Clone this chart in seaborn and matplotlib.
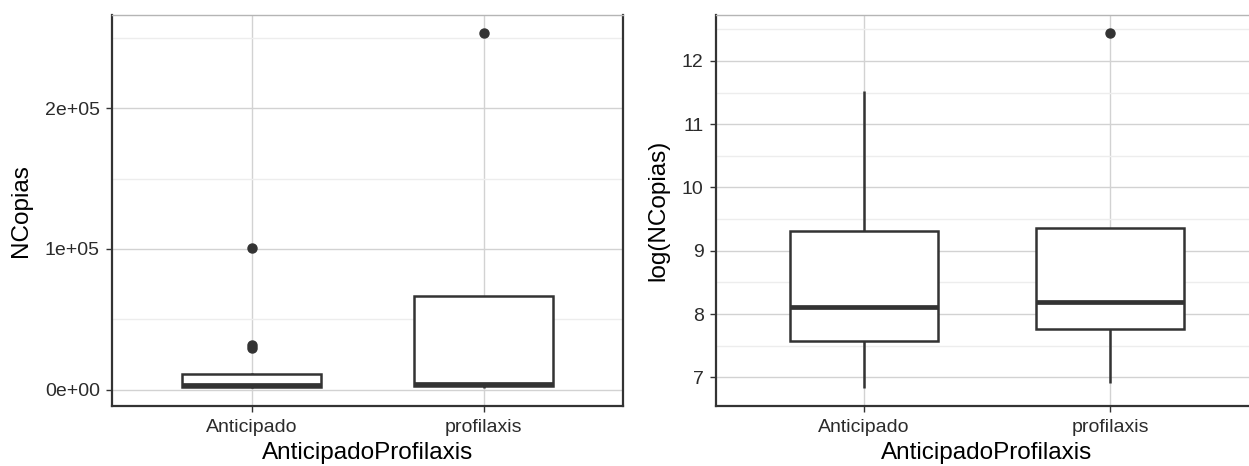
import numpy as np
import pandas as pd
import seaborn as sns
import matplotlib.pyplot as plt
from matplotlib.ticker import MultipleLocator, FuncFormatter

# NCopias per group
GROUPS = ["Anticipado", "profilaxis"]
anticipado = [925, 1250, 1500, 1800, 1960, 2300, 2700, 3000, 3330,
              4500, 6200, 8400, 11150, 11900, 29500, 32000, 100800]
profilaxis = [1012, 3140, 4133, 253600]

df = pd.DataFrame({
    "AnticipadoProfilaxis": ["Anticipado"] * len(anticipado) + ["profilaxis"] * len(profilaxis),
    "NCopias": anticipado + profilaxis,
})
df["logNCopias"] = np.log(df["NCopias"])

sns.set_theme(style="white")
plt.rcParams["font.family"] = ["Liberation Sans", "DejaVu Sans"]

DARK = "#333333"
fig = plt.figure(figsize=(12.49, 4.66), dpi=100)
ax1 = fig.add_axes([112.4 / 1249, 60 / 466, 510.3 / 1249, 391 / 466])
ax2 = fig.add_axes([716 / 1249, 60 / 466, 542 / 1249, 391 / 466])


def draw(ax, col, ylabel, major, minor, label_x):
    sns.boxplot(data=df, x="AnticipadoProfilaxis", y=col, order=GROUPS, ax=ax,
                width=0.6, color="white", linecolor=DARK, linewidth=1.8,
                saturation=1, showcaps=False, whis=1.5,
                boxprops=dict(facecolor="white", edgecolor=DARK, linewidth=1.8),
                medianprops=dict(color=DARK, linewidth=3.4),
                whiskerprops=dict(color=DARK, linewidth=1.8),
                flierprops=dict(marker="o", markerfacecolor=DARK, markeredgecolor=DARK,
                                markersize=6.5))
    ax.set_xlim(-0.6, 1.6)
    ax.margins(y=0.05)
    ax.yaxis.set_major_locator(MultipleLocator(major))
    ax.yaxis.set_minor_locator(MultipleLocator(minor))
    ax.set_axisbelow(True)
    ax.grid(which="major", axis="both", color="#d2d2d2", linewidth=1.0)
    ax.grid(which="minor", axis="y", color="#ededed", linewidth=1.0)
    ax.tick_params(which="major", direction="out", length=4.5, width=1.0, color=DARK,
                   labelsize=14, labelcolor="#2b2b2b", pad=4.5, left=True, bottom=True)
    ax.tick_params(which="minor", length=0)
    for s in ["left", "bottom", "right"]:
        ax.spines[s].set_color(DARK)
        ax.spines[s].set_linewidth(1.6)
    ax.spines["top"].set_color("#b5b5b5")
    ax.spines["top"].set_linewidth(1.0)
    ax.set_xlabel("AnticipadoProfilaxis", fontsize=17.5, color="black", va="center")
    ax.set_ylabel(ylabel, fontsize=17.5, color="black", va="center")
    ax.xaxis.set_label_coords(0.5, -0.12)
    ax.yaxis.set_label_coords(label_x, 0.5)


draw(ax1, "NCopias", "NCopias", 100000, 50000, -0.179)
ax1.yaxis.set_major_formatter(FuncFormatter(lambda v, p: f"{v:.0e}"))
draw(ax2, "logNCopias", "log(NCopias)", 1, 0.5, -0.107)

fig.savefig("out.png", dpi=100)
